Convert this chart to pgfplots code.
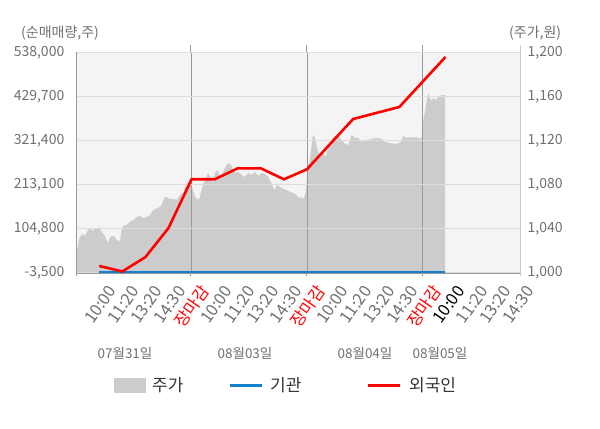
\documentclass[border=0pt]{standalone}
\usepackage{fontspec}
\setmainfont{Noto Sans CJK KR}
\usepackage{pgfplots}
\pgfplotsset{compat=1.18}
\usepackage{pgfplotstable}

\definecolor{bg}{HTML}{F4F4F4}
\definecolor{areac}{HTML}{CCCCCC}
\definecolor{tgray}{HTML}{707070}
\definecolor{gridc}{HTML}{DCDCDC}
\definecolor{sepc}{HTML}{999999}
\definecolor{inst}{HTML}{1580CC}
\definecolor{legt}{HTML}{333333}

\pgfplotstableread{
x p
-1.01 1022.4
-0.94 1022.4
-0.91 1027.0
-0.84 1032.4
-0.72 1035.1
-0.62 1033.3
-0.52 1037.8
-0.40 1040.6
-0.29 1037.8
-0.19 1040.6
-0.09 1039.7
0.00 1041.5
0.10 1036.9
0.22 1034.2
0.32 1029.7
0.39 1027.0
0.46 1032.4
0.58 1033.3
0.68 1032.4
0.75 1029.7
0.90 1028.8
0.97 1038.7
1.04 1042.4
1.19 1043.3
1.33 1046.0
1.47 1047.8
1.62 1050.5
1.76 1051.4
1.91 1049.6
2.05 1050.5
2.20 1052.4
2.27 1055.1
2.41 1057.8
2.56 1058.7
2.70 1061.4
2.80 1067.8
2.92 1068.7
3.06 1066.9
3.21 1066.9
3.35 1066.0
3.50 1070.5
3.64 1073.2
3.79 1081.4
3.90 1082.3
3.95 1079.6
3.97 1084.1
4.03 1076.9
4.15 1068.7
4.29 1066.0
4.36 1068.7
4.46 1077.8
4.58 1084.1
4.72 1090.5
4.84 1085.0
4.94 1081.4
5.01 1090.5
5.13 1093.2
5.23 1086.8
5.37 1091.4
5.48 1096.8
5.59 1099.5
5.71 1097.7
5.81 1093.2
5.91 1090.5
6.02 1091.4
6.17 1088.7
6.31 1086.8
6.46 1090.5
6.60 1088.7
6.74 1091.4
6.89 1087.7
7.04 1090.5
7.18 1089.6
7.32 1086.8
7.44 1082.3
7.58 1075.0
7.69 1079.6
7.83 1077.8
7.97 1076.0
8.12 1075.0
8.26 1073.2
8.41 1072.3
8.55 1070.5
8.62 1067.8
8.74 1068.7
8.84 1066.9
8.94 1072.3
9.03 1095.9
9.13 1102.3
9.25 1125.0
9.35 1122.3
9.42 1114.1
9.53 1106.8
9.65 1109.5
9.82 1105.0
9.92 1113.2
10.07 1120.4
10.21 1124.0
10.36 1123.1
10.50 1120.4
10.65 1116.8
10.79 1115.9
10.94 1125.0
11.08 1122.3
11.22 1122.3
11.37 1118.6
11.59 1120.4
11.80 1121.3
12.02 1122.3
12.24 1121.3
12.38 1118.6
12.60 1117.7
12.81 1116.8
13.03 1117.7
13.17 1124.0
13.32 1122.3
13.46 1123.1
13.60 1122.3
13.75 1123.1
13.90 1121.3
13.97 1123.1
14.04 1138.6
14.11 1145.8
14.19 1156.7
14.26 1163.1
14.33 1157.6
14.40 1156.7
14.47 1158.5
14.62 1156.7
14.68 1159.4
14.76 1159.4
14.83 1161.2
14.98 1161.2
}\price

\pgfplotstableread{
x v
0 13000
1 -500
2 35000
3 106300
4 226000
5 226000
6 253000
7 253000
8 226000
9 250600
10 312700
11 374100
12 388900
13 403600
14 465000
15 526500
}\foreign

\pgfplotstableread{
x v
0 -2000
1 -2000
2 -2000
3 -2000
4 -2000
5 -2000
6 -2000
7 -2000
8 -2000
9 -2000
10 -2000
11 -2000
12 -2000
13 -2000
14 -2000
15 -2000
}\institution

\newcommand{\tickfont}{\fontsize{14bp}{16bp}\selectfont}
\newcommand{\xtfont}{\fontsize{16.5bp}{18bp}\selectfont}
\newcommand{\R}[1]{\textcolor{red}{#1}}

\begin{document}
\begin{tikzpicture}[x=1bp,y=1bp]
\useasboundingbox (0,0) rectangle (600,428);

% price axis (right)
\begin{axis}[
  at={(76bp,155.3bp)}, anchor=south west,
  scale only axis, width=444bp, height=220.4bp,
  xmin=-1.01, xmax=18.23, ymin=1000, ymax=1200,
  axis background/.style={fill=bg},
  axis line style={draw=none},
  major tick length=0pt,
  scaled y ticks=false,
  ytick={1000,1040,1080,1120,1160,1200},
  yticklabels={{1,000},{1,040},{1,080},{1,120},{1,160},{1,200}},
  yticklabel pos=right,
  yticklabel style={font=\tickfont, text=tgray, anchor=west, inner sep=0pt, xshift=7.5bp},
  xtick={0,1.007,2.014,3.021,4.028,5.035,6.042,7.049,8.055,9.062,10.069,11.076,12.083,13.090,14.097,15.104,16.111,17.118,18.125},
  xticklabels={10:00,11:20,13:20,14:30,\R{장마감},10:00,11:20,13:20,14:30,\R{장마감},10:00,11:20,13:20,14:30,\R{장마감},\textcolor{black}{10:00},11:20,13:20,14:30},
  xticklabel style={font=\xtfont, text=tgray, rotate=55, anchor=east, inner sep=0pt, yshift=-19bp, xshift=-5bp},
]
\addplot[fill=areac, draw=none] table[x=x,y=p] {\price} \closedcycle;
\end{axis}

% volume axis (left)
\begin{axis}[
  at={(76bp,155.3bp)}, anchor=south west,
  scale only axis, width=444bp, height=220.4bp,
  xmin=-1.01, xmax=18.23, ymin=-3500, ymax=538000,
  axis line style={draw=none},
  major tick length=0pt,
  scaled y ticks=false,
  ytick={-3500,104800,213100,321400,429700,538000},
  yticklabels={{-3,500},{104,800},{213,100},{321,400},{429,700},{538,000}},
  yticklabel style={font=\tickfont, text=tgray, anchor=east, inner sep=0pt, xshift=-11.5bp},
  ymajorgrids, y grid style={gridc, line width=0.8bp},
  xtick={4,9,14}, xticklabels={},
  xmajorgrids, x grid style={sepc, line width=0.8bp},
]
\addplot[inst, line width=3bp] table[x=x,y=v] {\institution};
\addplot[red, line width=2.6bp] table[x=x,y=v] {\foreign};
\end{axis}

% frame lines
\draw[sepc, line width=0.8bp] (76,376) -- (76,152);
\draw[gridc!80!gray, line width=0.8bp] (520,383) -- (520,152);
\draw[sepc, line width=0.8bp] (76,154.5) -- (520,154.5);
\foreach \px in {190.3,306.2,422.6} {\draw[sepc, line width=0.8bp] (\px,383) -- (\px,376); \draw[sepc, line width=0.8bp] (\px,155.3) -- (\px,152);}

% axis titles
\node[font=\tickfont, text=tgray, anchor=west, inner sep=0pt] at (21,395) {(순매매량,주)};
\node[font=\tickfont, text=tgray, anchor=west, inner sep=0pt] at (509,395) {(주가,원)};

% date labels
\foreach \px/\t in {125/07월31일,245/08월03일,365/08월04일,440/08월05일}
  \node[font=\fontsize{13.5bp}{15bp}\selectfont, text=tgray, inner sep=0pt] at (\px,75) {\t};

% legend
\fill[areac] (114,35) rectangle (146,50);
\node[font=\fontsize{17bp}{19bp}\selectfont, text=legt, anchor=west, inner sep=0pt] at (152,42.5) {주가};
\draw[inst, line width=3bp] (230,42.3) -- (262,42.3);
\node[font=\fontsize{17bp}{19bp}\selectfont, text=legt, anchor=west, inner sep=0pt] at (270,42.5) {기관};
\draw[red, line width=3bp] (368,42.3) -- (400,42.3);
\node[font=\fontsize{17bp}{19bp}\selectfont, text=legt, anchor=west, inner sep=0pt] at (409,42.5) {외국인};
\end{tikzpicture}
\end{document}
